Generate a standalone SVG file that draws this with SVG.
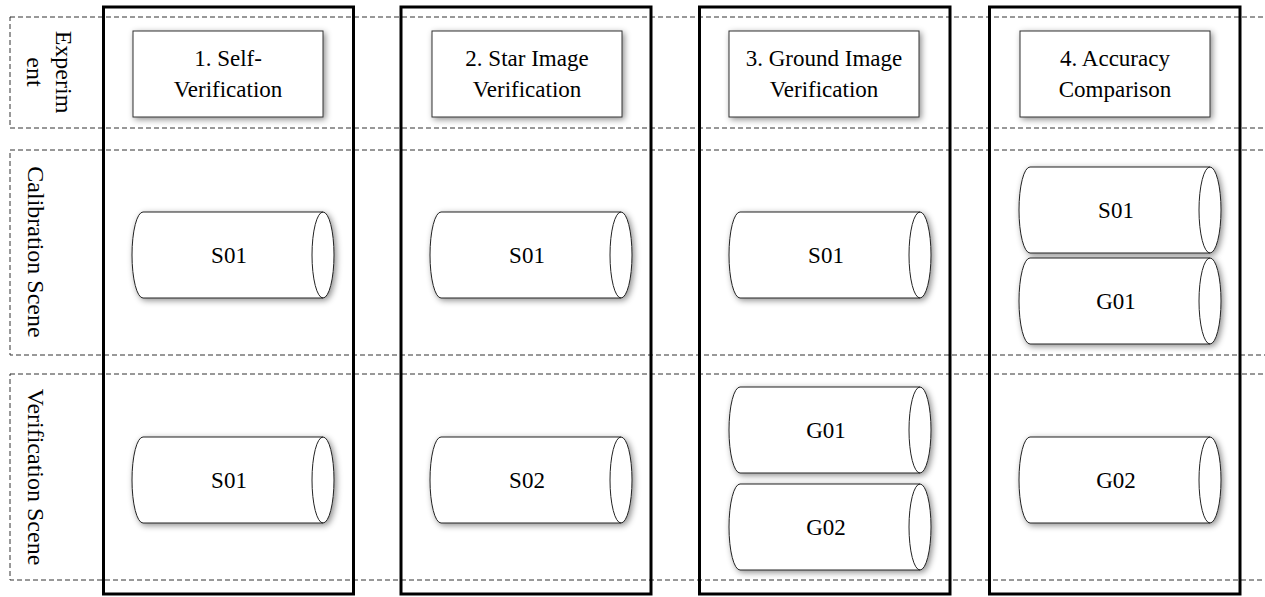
<svg xmlns="http://www.w3.org/2000/svg" width="1265" height="597" viewBox="0 0 1265 597">
<style>
.lane{fill:none;stroke:#333;stroke-width:1;stroke-dasharray:5 3}
.col{fill:none;stroke:#000;stroke-width:3}
.box{fill:#fff;stroke:#333;stroke-width:1;filter:url(#sh)}
.cyl{fill:#fff;stroke:#222;stroke-width:1;filter:url(#sh)}
.face{fill:none;stroke:#222;stroke-width:1}
.t{font-family:"Liberation Serif","Times New Roman",serif;font-size:23px;fill:#000;text-anchor:middle}
.lt{font-family:"Liberation Serif","Times New Roman",serif;font-size:24px;fill:#000;text-anchor:middle}
</style>
<defs>
<filter id="sh" x="-20%" y="-20%" width="140%" height="150%">
<feDropShadow dx="2" dy="2" stdDeviation="3" flood-color="#000" flood-opacity="0.45"/>
</filter>
<path id="cy" d="M0,0 L180,0 A11,43 0 0 1 180,86 L0,86 A11,43 0 0 1 0,0 Z"/>
<path id="cyf" d="M180,0 A11,43 0 0 0 180,86"/>
</defs>
<rect width="1265" height="597" fill="#fff"/>
<g id="lanes">
<g id="lane-experiment">
<rect class="lane" x="10" y="17" width="1275" height="111"/>
<text class="lt" transform="translate(56,72) rotate(90)">Experim</text>
<text class="lt" transform="translate(27,72) rotate(90)">ent</text>
</g>
<g id="lane-calibration">
<rect class="lane" x="10" y="150" width="1275" height="205"/>
<text class="lt" transform="translate(28,252) rotate(90)">Calibration Scene</text>
</g>
<g id="lane-verification">
<rect class="lane" x="10" y="374" width="1275" height="206"/>
<text class="lt" transform="translate(28,477) rotate(90)">Verification Scene</text>
</g>
</g>
<g id="columns">
<rect id="col1" class="col" x="103.5" y="7" width="250" height="587"/>
<rect id="col2" class="col" x="401" y="7" width="250" height="587"/>
<rect id="col3" class="col" x="699.5" y="7" width="250.5" height="587"/>
<rect id="col4" class="col" x="989.5" y="7" width="250.5" height="587"/>
</g>
<g id="h1"><rect class="box" x="133" y="31" width="190" height="86"/><text class="t" x="228" y="66">1. Self-</text><text class="t" x="228" y="97">Verification</text></g>
<g id="h2"><rect class="box" x="432" y="31" width="190" height="86"/><text class="t" x="527" y="66">2. Star Image</text><text class="t" x="527" y="97">Verification</text></g>
<g id="h3"><rect class="box" x="729" y="31" width="190" height="86"/><text class="t" x="824" y="66">3. Ground Image</text><text class="t" x="824" y="97">Verification</text></g>
<g id="h4"><rect class="box" x="1020" y="31" width="190" height="86"/><text class="t" x="1115" y="66">4. Accuracy</text><text class="t" x="1115" y="97">Comparison</text></g>
<g id="c1-cal" transform="translate(143,212)"><use href="#cy" class="cyl"/><use href="#cyf" class="face"/><text class="t" x="86" y="51">S01</text></g>
<g id="c2-cal" transform="translate(441,212)"><use href="#cy" class="cyl"/><use href="#cyf" class="face"/><text class="t" x="86" y="51">S01</text></g>
<g id="c3-cal" transform="translate(740,212)"><use href="#cy" class="cyl"/><use href="#cyf" class="face"/><text class="t" x="86" y="51">S01</text></g>
<g id="c4-cal-s01" transform="translate(1030,167)"><use href="#cy" class="cyl"/><use href="#cyf" class="face"/><text class="t" x="86" y="51">S01</text></g>
<g id="c4-cal-g01" transform="translate(1030,258)"><use href="#cy" class="cyl"/><use href="#cyf" class="face"/><text class="t" x="86" y="51">G01</text></g>
<g id="c1-ver" transform="translate(143,437)"><use href="#cy" class="cyl"/><use href="#cyf" class="face"/><text class="t" x="86" y="51">S01</text></g>
<g id="c2-ver" transform="translate(441,437)"><use href="#cy" class="cyl"/><use href="#cyf" class="face"/><text class="t" x="86" y="51">S02</text></g>
<g id="c3-ver-g01" transform="translate(740,387)"><use href="#cy" class="cyl"/><use href="#cyf" class="face"/><text class="t" x="86" y="51">G01</text></g>
<g id="c3-ver-g02" transform="translate(740,484)"><use href="#cy" class="cyl"/><use href="#cyf" class="face"/><text class="t" x="86" y="51">G02</text></g>
<g id="c4-ver" transform="translate(1030,437)"><use href="#cy" class="cyl"/><use href="#cyf" class="face"/><text class="t" x="86" y="51">G02</text></g>
</svg>
